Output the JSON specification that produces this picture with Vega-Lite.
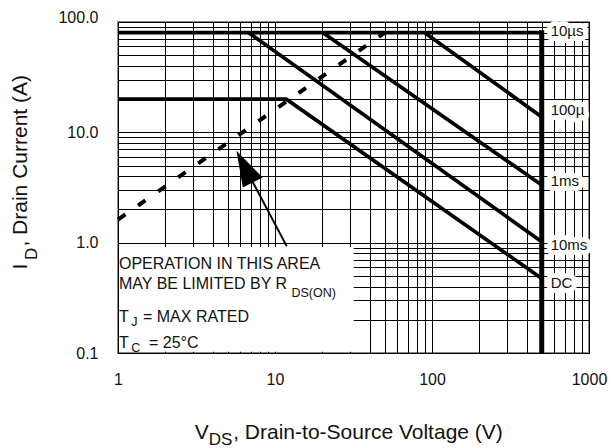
{
  "$schema": "https://vega.github.io/schema/vega-lite/v6.json",
  "width": 471,
  "height": 331,
  "autosize": {"type": "none"},
  "padding": {"left": 118, "top": 22, "right": 22, "bottom": 95},
  "background": "white",
  "config": {
    "view": {"stroke": "#8c8c8c", "strokeWidth": 2},
    "font": "Liberation Sans",
    "text": {"font": "Liberation Sans", "color": "#111"},
    "axis": {
      "grid": true, "gridColor": "#000", "gridOpacity": 1, "gridWidth": 1,
      "domain": false, "ticks": false,
      "labelFont": "Liberation Sans", "labelFontSize": 16, "labelColor": "#111",
      "labelOverlap": false, "labelFlush": false, "labelBound": false
    }
  },
  "datasets": {
    "box": [{"v": 1.016, "v2": 31.7, "i": 0.1025, "i2": 0.912}],
    "curves": [
      {"series": "10µs", "k": 1, "v": 1, "i": 80},
      {"series": "10µs", "k": 2, "v": 500, "i": 80},
      {"series": "100µs", "k": 1, "v": 89.9, "i": 80},
      {"series": "100µs", "k": 2, "v": 500, "i": 13.8},
      {"series": "1ms", "k": 1, "v": 20.2, "i": 80},
      {"series": "1ms", "k": 2, "v": 500, "i": 3.33},
      {"series": "10ms", "k": 1, "v": 6.8, "i": 80},
      {"series": "10ms", "k": 2, "v": 500, "i": 1.02},
      {"series": "DC", "k": 1, "v": 1, "i": 20},
      {"series": "DC", "k": 2, "v": 11.8, "i": 20},
      {"series": "DC", "k": 3, "v": 500, "i": 0.474}
    ],
    "bv": [{"v": 500, "i": 0.105, "i2": 80}],
    "rds": [{"v": 1, "i": 1.62}, {"v": 50, "i": 80}],
    "shaft": [{"v": 6.4, "i": 4.89}, {"v": 11.87, "i": 0.93}],
    "head": [{"v": 6.4, "i": 4.89}],
    "curvelabels": [
      {"lab": "10µs", "v": 570, "i": 82.9},
      {"lab": "100µ", "v": 570, "i": 15.93},
      {"lab": "1ms", "v": 570, "i": 3.618},
      {"lab": "10ms", "v": 570, "i": 0.951},
      {"lab": "DC", "v": 570, "i": 0.43}
    ],
    "notes": [
      {"t": "OPERATION IN THIS AREA", "v": 1.0148, "i": 0.644},
      {"t": "MAY BE LIMITED BY R", "v": 1.0148, "i": 0.419},
      {"t": "T", "v": 1.0148, "i": 0.2116},
      {"t": "= MAX RATED", "v": 1.443, "i": 0.2116},
      {"t": "T", "v": 1.0148, "i": 0.1238},
      {"t": "= 25°C", "v": 1.576, "i": 0.1238}
    ],
    "notesubs": [
      {"t": "DS(ON)", "v": 12.72, "i": 0.351},
      {"t": "J", "v": 1.215, "i": 0.1906},
      {"t": "C", "v": 1.215, "i": 0.1108}
    ],
    "xtitle": [
      {"t": "V", "v": 3.08, "i": 0.01878},
      {"t": ", Drain-to-Source Voltage (V)", "v": 5.417, "i": 0.01878}
    ],
    "xtitlesub": [{"t": "DS", "v": 3.782, "i": 0.01623}],
    "ytitle": [
      {"t": "I", "v": 0.2425, "i": 0.5715},
      {"t": ", Drain Current (A)", "v": 0.2425, "i": 0.922}
    ],
    "ytitlesub": [{"t": "D", "v": 0.285, "i": 0.6955}]
  },
  "encoding": {
    "x": {
      "field": "v", "type": "quantitative",
      "scale": {"type": "log", "domain": [1, 1000]},
      "axis": {
        "title": null,
        "values": [1,2,3,4,5,6,7,8,9,10,20,30,40,50,60,70,80,90,100,200,300,400,500,600,700,800,900,1000],
        "labelExpr": "(datum.value==1||datum.value==10||datum.value==100||datum.value==1000) ? format(datum.value,'d') : ''",
        "labelPadding": 18
      }
    },
    "y": {
      "field": "i", "type": "quantitative",
      "scale": {"type": "log", "domain": [0.1, 100]},
      "axis": {
        "title": null,
        "values": [0.1,0.2,0.3,0.4,0.5,0.6,0.7,0.8,0.9,1,2,3,4,5,6,7,8,9,10,20,30,40,50,60,70,80,90,100],
        "labelExpr": "(datum.value==0.1||datum.value==1||datum.value==10||datum.value==100) ? format(datum.value,'.1f') : ''",
        "labelPadding": 20,
        "labelBaseline": {"condition": {"test": "datum.value == 100", "value": "alphabetic"}, "value": "middle"}
      }
    }
  },
  "layer": [
    {
      "data": {"name": "box"},
      "mark": {"type": "rect", "color": "white", "opacity": 1},
      "encoding": {
        "x2": {"field": "v2"},
        "y2": {"field": "i2"}
      }
    },
    {
      "data": {"name": "curvelabels"},
      "mark": {"type": "text", "align": "left", "baseline": "middle", "fontSize": 15, "fill": "white", "stroke": "white", "strokeWidth": 10, "strokeJoin": "round"},
      "encoding": {"text": {"field": "lab"}}
    },
    {
      "data": {"name": "curves"},
      "mark": {"type": "line", "color": "#000", "strokeWidth": 3.7},
      "encoding": {
        "detail": {"field": "series"},
        "order": {"field": "k"}
      }
    },
    {
      "data": {"name": "bv"},
      "mark": {"type": "rule", "color": "#000", "strokeWidth": 5, "strokeCap": "square"},
      "encoding": {
        "y2": {"field": "i2"}
      }
    },
    {
      "data": {"name": "rds"},
      "mark": {"type": "line", "color": "#000", "strokeWidth": 4, "strokeDash": [9, 15.5]},
      "encoding": {}
    },
    {
      "data": {"name": "shaft"},
      "mark": {"type": "line", "color": "#000", "strokeWidth": 2},
      "encoding": {}
    },
    {
      "data": {"name": "head"},
      "mark": {"type": "point", "shape": "M0,-1L0.62,1L-0.62,1Z", "filled": true, "color": "#000", "opacity": 1, "size": 1274, "angle": 333},
      "encoding": {}
    },
    {
      "data": {"name": "curvelabels"},
      "mark": {"type": "text", "align": "left", "baseline": "middle", "fontSize": 15, "color": "#111"},
      "encoding": {"text": {"field": "lab"}}
    },
    {
      "data": {"name": "notes"},
      "mark": {"type": "text", "align": "left", "baseline": "middle", "fontSize": 16, "color": "#111"},
      "encoding": {"text": {"field": "t"}}
    },
    {
      "data": {"name": "notesubs"},
      "mark": {"type": "text", "align": "left", "baseline": "middle", "fontSize": 12.5, "color": "#111"},
      "encoding": {"text": {"field": "t"}}
    },
    {
      "data": {"name": "xtitle"},
      "mark": {"type": "text", "align": "left", "baseline": "middle", "fontSize": 21, "color": "#111"},
      "encoding": {"text": {"field": "t"}}
    },
    {
      "data": {"name": "xtitlesub"},
      "mark": {"type": "text", "align": "left", "baseline": "middle", "fontSize": 17, "color": "#111"},
      "encoding": {"text": {"field": "t"}}
    },
    {
      "data": {"name": "ytitle"},
      "mark": {"type": "text", "align": "left", "baseline": "middle", "fontSize": 21, "angle": 270, "color": "#111"},
      "encoding": {"text": {"field": "t"}}
    },
    {
      "data": {"name": "ytitlesub"},
      "mark": {"type": "text", "align": "left", "baseline": "middle", "fontSize": 17, "angle": 270, "color": "#111"},
      "encoding": {"text": {"field": "t"}}
    }
  ]
}
